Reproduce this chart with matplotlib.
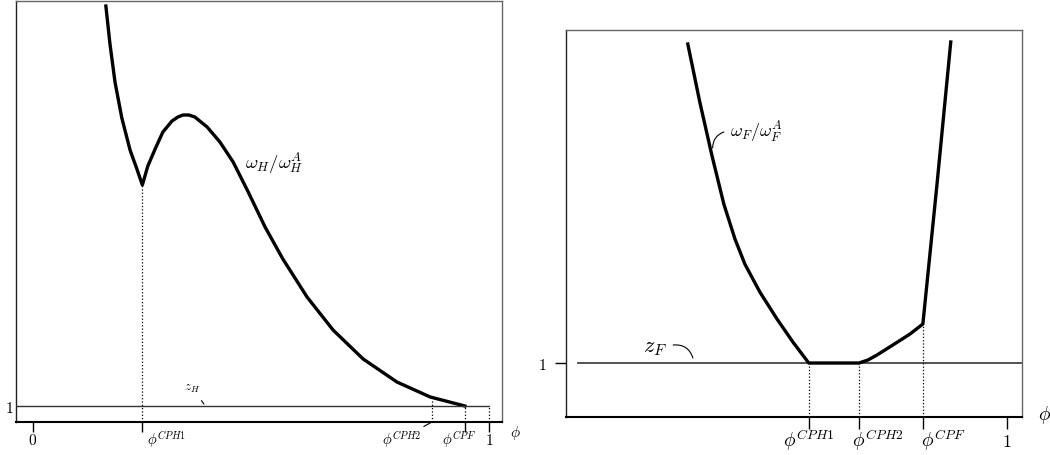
import matplotlib
matplotlib.use("Agg")
import matplotlib.pyplot as plt

plt.rcParams["mathtext.fontset"] = "cm"
plt.rcParams["font.family"] = "serif"
plt.rcParams["font.serif"] = ["DejaVu Serif"]

# left panel: omega_H / omega_H^A against phi
phi_h = [0.160, 0.169, 0.180, 0.195, 0.213, 0.228, 0.240, 0.252, 0.268, 0.285,
         0.305, 0.318, 0.329, 0.342, 0.355, 0.382, 0.410, 0.439, 0.471, 0.509,
         0.548, 0.601, 0.658, 0.724, 0.798, 0.871, 0.947]
omega_h = [5.00, 4.62, 4.24, 3.88, 3.56, 3.37, 3.21, 3.40, 3.57, 3.74,
           3.85, 3.89, 3.91, 3.91, 3.89, 3.79, 3.64, 3.44, 3.15, 2.79,
           2.47, 2.09, 1.76, 1.47, 1.24, 1.09, 1.00]
cph1_h, cph2_h, cpf_h = 0.240, 0.875, 0.947
omega_h_cph1, omega_h_cph2 = 3.21, 1.06

# right panel: omega_F / omega_F^A against phi
phi_f = [0.256, 0.284, 0.312, 0.340, 0.366, 0.389, 0.424, 0.464, 0.501, 0.538,
         0.655, 0.676, 0.697, 0.734, 0.774, 0.804, 0.837, 0.869]
omega_f = [4.19, 3.61, 3.08, 2.59, 2.24, 1.99, 1.71, 1.44, 1.21, 1.00,
           1.00, 1.03, 1.08, 1.18, 1.29, 1.39, 2.79, 4.21]
cph1_f, cph2_f, cpf_f = 0.538, 0.655, 0.804
omega_f_cpf = 1.39

z_level = 1.0

fig = plt.figure(figsize=(10.5, 4.56), dpi=100)
ax1 = fig.add_axes([0.01524, 0.0724, 0.4629, 0.9232])
ax2 = fig.add_axes([0.539, 0.0833, 0.4343, 0.8487])


def style_box(ax):
    for s in ["top", "right"]:
        ax.spines[s].set_color("#666666")
        ax.spines[s].set_linewidth(1.0)
    ax.spines["left"].set_color("#222222")
    ax.spines["left"].set_linewidth(1.0)
    ax.spines["bottom"].set_color("black")
    ax.spines["bottom"].set_linewidth(1.5)
    ax.tick_params(labelbottom=False)


def tick_text(ax, x, s, dx, dy, size, ha="center"):
    ax.annotate(s, xy=(x, 0), xycoords=("data", "axes fraction"),
                xytext=(dx, dy), textcoords="offset points",
                ha=ha, va="baseline", fontsize=size)


# ---- left panel
style_box(ax1)
ax1.set_xlim(-0.037, 1.0285)
ax1.set_ylim(0.84, 5.05)
ax1.plot(phi_h, omega_h, color="black", lw=2.4, solid_joinstyle="round")
ax1.plot([-0.037, 1.0], [z_level, z_level], color="#333333", lw=1.0)
ax1.vlines([cph1_h, cph2_h, cpf_h, 1.0], 0.84,
           [omega_h_cph1, omega_h_cph2, z_level, z_level],
           colors="black", linestyles=":", lw=0.9)
ax1.set_xticks([0, cph1_h, cpf_h, 1])
ax1.tick_params(axis="x", direction="out", length=7, width=1.0)
ax1.set_yticks([z_level])
ax1.set_yticklabels(["$1$"], fontsize=11)
ax1.tick_params(axis="y", length=0, pad=2)

tick_text(ax1, 0, "$0$", 0, -15.8, 11)
tick_text(ax1, cph1_h, r"$\phi^{CPH1}$", 3.5, -15.8, 10.5, ha="left")
tick_text(ax1, cpf_h, r"$\phi^{CPF}$", -4.3, -15.8, 10.5)
tick_text(ax1, 1, "$1$", 0, -15.8, 11)
ax1.annotate(r"$\phi^{CPH2}$", xy=(cph2_h, 0), xycoords=("data", "axes fraction"),
             xytext=(-7.9, -15.8), textcoords="offset points",
             ha="right", va="baseline", fontsize=10.5,
             arrowprops=dict(arrowstyle="-", lw=0.8, color="black",
                             relpos=(1, 1), shrinkA=0, shrinkB=0))
ax1.annotate(r"$\phi$", xy=(1, 0), xycoords="axes fraction",
             xytext=(9.4, -7.2), textcoords="offset points",
             ha="center", va="center", fontsize=11)

ax1.text(0.465, 3.44, r"$\omega_H/\omega_H^A$", fontsize=13.5, ha="left", va="center")
ax1.annotate(r"$z_H$", xy=(0.375, 1.02), xytext=(0.349, 1.18),
             fontsize=9.5, ha="center", va="center",
             arrowprops=dict(arrowstyle="-", lw=0.8, color="black",
                             shrinkA=3, shrinkB=0))

# ---- right panel
style_box(ax2)
ax2.set_xlim(-0.028, 1.035)
ax2.set_ylim(0.46, 4.33)
ax2.plot([0, 1.035], [z_level, z_level], color="#444444", lw=1.3)
ax2.plot(phi_f, omega_f, color="black", lw=2.4, solid_joinstyle="round")
ax2.vlines([cph1_f, cph2_f, cpf_f], 0.46, [z_level, z_level, omega_f_cpf],
           colors="black", linestyles=":", lw=0.9)
ax2.set_xticks([cph1_f, cph2_f, cpf_f, 1])
ax2.tick_params(axis="x", direction="out", length=8.6, width=1.0)
ax2.set_yticks([z_level])
ax2.set_yticklabels(["$1$"], fontsize=11)
ax2.tick_params(axis="y", direction="out", length=8, width=1.0, pad=6)

tick_text(ax2, cph1_f, r"$\phi^{CPH1}$", 0, -20.9, 14)
tick_text(ax2, cph2_f, r"$\phi^{CPH2}$", -5, -20.9, 14, ha="left")
tick_text(ax2, cpf_f, r"$\phi^{CPF}$", -1.5, -20.9, 14, ha="left")
tick_text(ax2, 1, "$1$", 0, -20.9, 13)
ax2.annotate(r"$\phi$", xy=(1, 0), xycoords="axes fraction",
             xytext=(16.6, 2), textcoords="offset points",
             ha="center", va="center", fontsize=14)

ax2.text(0.354, 3.32, r"$\omega_F/\omega_F^A$", fontsize=13, ha="left", va="center")
ax2.annotate("", xy=(0.314, 3.15), xytext=(0.340, 3.31),
             arrowprops=dict(arrowstyle="-", lw=0.8, color="black",
                             connectionstyle="arc3,rad=0.35",
                             shrinkA=0, shrinkB=0))
ax2.text(0.179, 1.17, r"$z_F$", fontsize=16, ha="center", va="center")
ax2.annotate("", xy=(0.268, 1.05), xytext=(0.222, 1.18),
             arrowprops=dict(arrowstyle="-", lw=0.8, color="black",
                             connectionstyle="arc3,rad=-0.4",
                             shrinkA=0, shrinkB=0))

fig.savefig("out.png", dpi=100)
